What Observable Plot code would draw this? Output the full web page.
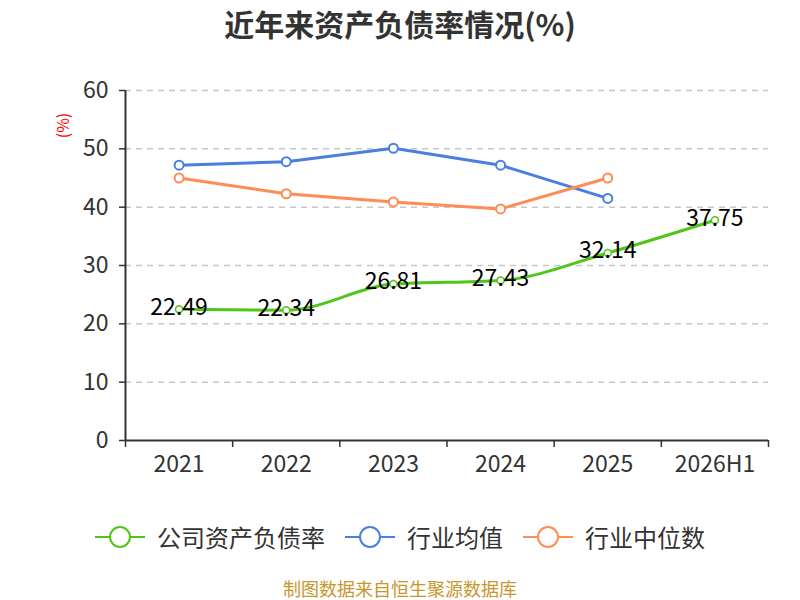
<!DOCTYPE html>
<html>
<head>
<meta charset="utf-8">
<script src="https://cdn.jsdelivr.net/npm/d3@7"></script>
<script src="https://cdn.jsdelivr.net/npm/@observablehq/plot@0.6"></script>
<style>
  body { margin: 0; background: #fff; }
  #wrap { position: relative; width: 800px; height: 600px; overflow: hidden; font-family: "Noto Sans CJK SC", "Noto Sans", sans-serif; color: #333; }
  #title { position: absolute; top: 2px; left: 0; width: 800px; text-align: center; font-size: 30px; font-weight: bold; color: #333; line-height: 42px; }
  #chart { position: absolute; top: 45px; left: 0; }
  #legend { position: absolute; top: 518px; left: 0; width: 800px; display: flex; justify-content: center; align-items: center; font-size: 24px; color: #333; line-height: 38px; }
  .item { display: flex; align-items: center; margin: 0 10px; }
  .item svg { margin-right: 12px; }
  #footer { position: absolute; top: 578px; left: 0; width: 800px; text-align: center; font-size: 18px; color: #c8962e; line-height: 20px; }
</style>
</head>
<body>
<div id="wrap">
  <div id="title">近年来资产负债率情况(%)</div>
  <div id="chart"></div>
  <div id="legend"></div>
  <div id="footer">制图数据来自恒生聚源数据库</div>
</div>
<script>
const categories = ["2021", "2022", "2023", "2024", "2025", "2026H1"];
const company = [22.49, 22.34, 26.81, 27.43, 32.14, 37.75];
const industryAvg = [47.2, 47.8, 50.1, 47.2, 41.5];
const industryMedian = [45.0, 42.3, 40.9, 39.7, 45.0];
const yTicks = [0, 10, 20, 30, 40, 50, 60];
const seriesNames = ["公司资产负债率", "行业均值", "行业中位数"];
const colors = ["#52c41a", "#4a7fe0", "#ff8c55"];

const toRows = (vals) => vals.map((v, i) => ({ i, v }));
const compRows = toRows(company);
const avgRows = toRows(industryAvg);
const medRows = toRows(industryMedian);

const boundaries = d3.range(categories.length + 1).map(k => k - 0.5);

const chart = Plot.plot({
  width: 800,
  height: 460,
  marginTop: 45,
  marginBottom: 65,
  marginLeft: 125,
  marginRight: 32,
  style: { fontFamily: "'Noto Sans CJK SC', 'Noto Sans', sans-serif", fontSize: "23px", color: "#333", overflow: "visible" },
  x: { type: "linear", domain: [-0.5, categories.length - 0.5] },
  y: { domain: [0, 60] },
  marks: [
    Plot.gridY(yTicks.filter(t => t > 0), { stroke: "#c8c8c8", strokeOpacity: 1, strokeWidth: 1.5, strokeDasharray: "6,5" }),
    Plot.axisY({ ticks: yTicks, tickSize: 6, tickPadding: 11, label: null, fontSize: 23, stroke: "#333", strokeWidth: 1.5 }),
    Plot.ruleX([-0.5], { stroke: "#333", strokeWidth: 2 }),
    Plot.ruleY([0], { stroke: "#333", strokeWidth: 2 }),
    Plot.axisX({ ticks: boundaries, tickSize: 7, tickFormat: () => "", label: null, stroke: "#333", strokeWidth: 1.5 }),
    Plot.axisX({ ticks: d3.range(categories.length), tickSize: 0, tickPadding: 15, tickFormat: i => categories[i], label: null, fontSize: 23 }),
    Plot.text(["(%)"], { frameAnchor: "top-left", textAnchor: "middle", lineAnchor: "middle", dx: -62, dy: 35, rotate: -90, fill: "red", fontSize: 16 }),
    Plot.line(avgRows, { x: "i", y: "v", stroke: colors[1], strokeWidth: 3 }),
    Plot.line(medRows, { x: "i", y: "v", stroke: colors[2], strokeWidth: 3 }),
    Plot.line(compRows, { x: "i", y: "v", stroke: colors[0], strokeWidth: 3, curve: "monotone-x" }),
    Plot.dot(avgRows, { x: "i", y: "v", r: 4.5, fill: "white", stroke: colors[1], strokeWidth: 2 }),
    Plot.dot(medRows, { x: "i", y: "v", r: 4.5, fill: "white", stroke: colors[2], strokeWidth: 2 }),
    Plot.dot(compRows, { x: "i", y: "v", r: 3.5, fill: "white", stroke: colors[0], strokeWidth: 1.5 }),
    Plot.text(compRows, { x: "i", y: "v", dy: -2, text: d => d.v.toFixed(2), fill: "black", fontSize: 23 })
  ]
});
document.getElementById("chart").appendChild(chart);

const legend = document.getElementById("legend");
seriesNames.forEach((name, k) => {
  const item = document.createElement("div");
  item.className = "item";
  item.innerHTML = `<svg width="50" height="26"><line x1="0" y1="13" x2="50" y2="13" stroke="${colors[k]}" stroke-width="2"/><circle cx="25" cy="13" r="10" fill="white" stroke="${colors[k]}" stroke-width="2"/></svg><span>${name}</span>`;
  legend.appendChild(item);
});
</script>
</body>
</html>
